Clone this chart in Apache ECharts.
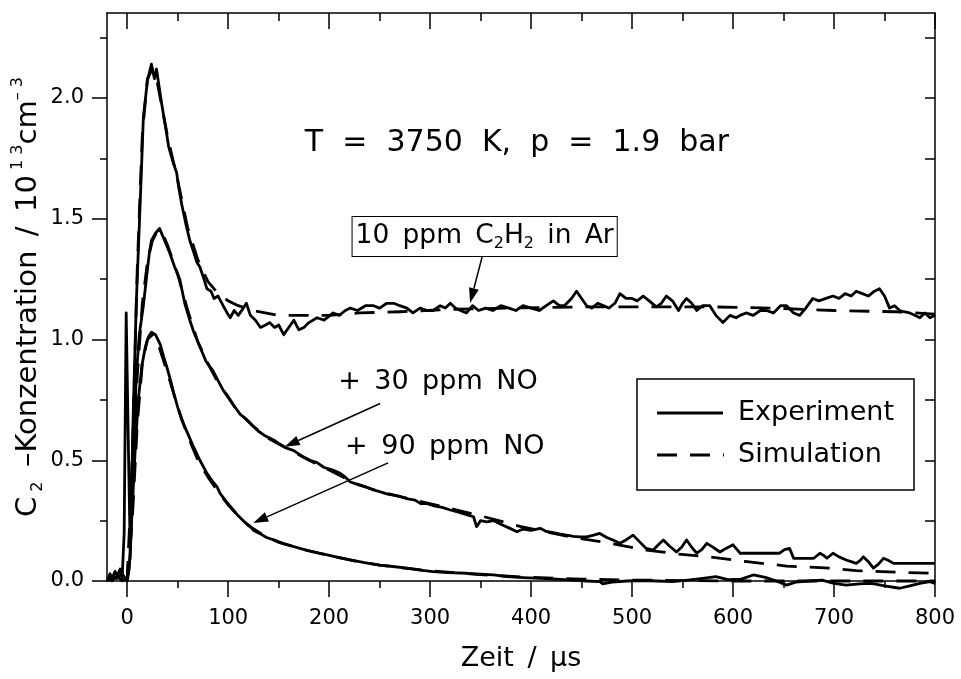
<!DOCTYPE html>
<html><head><meta charset="utf-8">
<script src="https://cdn.jsdelivr.net/npm/echarts@6/dist/echarts.min.js"></script>
<style>html,body{margin:0;padding:0;background:#fff}#c{width:961px;height:679px}</style>
</head><body><div id="c"></div>
<script>
// ---- axis ticks ----
const xMajor = [0, 100, 200, 300, 400, 500, 600, 700, 800];
const xMinor = [50, 150, 250, 350, 450, 550, 650, 750];
const yMajor = [0, 0.5, 1.0, 1.5, 2.0];
const yMinor = [0.25, 0.75, 1.25, 1.75, 2.25];
const yAll = [0, 0.25, 0.5, 0.75, 1.0, 1.25, 1.5, 1.75, 2.0, 2.25];

// ---- data: [time µs, C2 concentration / 1e13 cm^-3] ----
const expA = [[-20,0.00],[-17,0.03],[-15,0.01],[-12,0.04],[-10,0.02],[-7,0.05],[-5,0.01],[-3,0.2],[-1,1.11],[1,0.6],[3,0.13],[6,0.7],[9,1.15],[13,1.58],[16,1.92],[20,2.07],[24,2.14],[27,2.08],[29,2.12],[34,1.98],[38,1.88],[41,1.80],[45,1.74],[49,1.69],[51,1.63],[54,1.56],[58,1.48],[62,1.41],[66,1.36],[69,1.32],[72,1.30],[76,1.25],[79,1.21],[83,1.20],[86,1.17],[90,1.18],[95,1.14],[99,1.11],[102,1.09],[106,1.12],[110,1.10],[115,1.13],[118,1.15],[122,1.10],[127,1.08],[132,1.05],[137,1.06],[141,1.07],[146,1.05],[150,1.06],[155,1.02],[160,1.05],[165,1.08],[170,1.04],[175,1.05],[180,1.07],[188,1.09],[195,1.08],[204,1.11],[210,1.10],[216,1.12],[221,1.13],[228,1.12],[236,1.14],[244,1.14],[250,1.13],[257,1.15],[264,1.15],[270,1.14],[277,1.13],[283,1.11],[290,1.13],[297,1.12],[303,1.12],[310,1.14],[315,1.13],[320,1.15],[325,1.13],[330,1.12],[336,1.11],[342,1.14],[348,1.12],[355,1.13],[362,1.12],[370,1.14],[378,1.13],[385,1.12],[392,1.14],[400,1.13],[408,1.12],[415,1.14],[422,1.16],[428,1.14],[433,1.14],[440,1.17],[445,1.20],[450,1.17],[455,1.14],[460,1.13],[466,1.15],[472,1.14],[477,1.13],[483,1.15],[488,1.19],[494,1.17],[500,1.17],[505,1.16],[511,1.18],[517,1.16],[524,1.135],[529,1.15],[534,1.18],[540,1.16],[546,1.12],[550,1.15],[554,1.17],[559,1.15],[564,1.12],[570,1.14],[577,1.14],[583,1.10],[590,1.07],[597,1.10],[603,1.09],[607,1.10],[613,1.11],[620,1.10],[627,1.12],[633,1.12],[640,1.11],[647,1.14],[653,1.14],[660,1.11],[666,1.10],[672,1.13],[679,1.17],[685,1.16],[692,1.17],[699,1.18],[705,1.17],[711,1.19],[717,1.18],[722,1.20],[728,1.19],[734,1.18],[740,1.20],[745,1.21],[750,1.18],[755,1.13],[760,1.14],[765,1.12],[769,1.115],[775,1.11],[780,1.10],[785,1.09],[790,1.11],[795,1.09],[800,1.10]];
const simA = [[0,0],[5,0.5],[10,1.3],[15,1.85],[20,2.08],[25,2.12],[30,2.06],[40,1.84],[50,1.66],[60,1.46],[70,1.33],[80,1.24],[90,1.19],[100,1.16],[110,1.14],[125,1.12],[150,1.10],[175,1.10],[200,1.10],[230,1.11],[270,1.115],[320,1.125],[380,1.13],[450,1.135],[520,1.135],[580,1.135],[640,1.13],[700,1.12],[760,1.115],[800,1.105]];
const expB = [[-20,0.01],[-15,0.0],[-10,0.02],[-5,0.0],[0,0.01],[3,0.1],[6,0.5],[9,0.85],[12,1.02],[16,1.14],[19.5,1.27],[22,1.36],[24,1.41],[28,1.44],[32,1.46],[36,1.42],[42,1.36],[47,1.30],[52,1.25],[57,1.15],[62,1.08],[66,1.03],[72,0.97],[78,0.91],[85,0.87],[90,0.83],[95,0.79],[99,0.77],[105,0.73],[112,0.69],[118,0.67],[125,0.64],[130,0.62],[137,0.60],[145,0.584],[150,0.57],[158,0.55],[165,0.54],[172,0.52],[181,0.50],[188,0.49],[195,0.47],[203,0.46],[211,0.446],[216,0.43],[221,0.41],[228,0.40],[236,0.39],[244,0.377],[250,0.37],[258,0.36],[265,0.355],[270,0.35],[278,0.34],[285,0.335],[291,0.32],[297,0.32],[305,0.31],[312,0.305],[320,0.294],[328,0.285],[336,0.275],[343,0.266],[346,0.225],[350,0.25],[356,0.245],[363,0.25],[370,0.235],[378,0.22],[386,0.204],[392,0.215],[400,0.21],[409,0.218],[415,0.205],[422,0.2],[428,0.195],[435,0.19],[442,0.185],[448,0.183],[455,0.183],[462,0.19],[468,0.197],[475,0.18],[481,0.17],[488,0.156],[494,0.17],[501,0.19],[508,0.16],[514,0.135],[521,0.128],[526,0.15],[531,0.17],[537,0.145],[544,0.12],[549,0.14],[554,0.17],[559,0.14],[564,0.115],[569,0.13],[574,0.156],[580,0.14],[587,0.12],[593,0.135],[600,0.15],[604,0.13],[607,0.115],[615,0.115],[625,0.115],[635,0.115],[646,0.115],[651,0.13],[656,0.135],[660,0.094],[668,0.094],[675,0.094],[680,0.094],[686,0.115],[690,0.105],[693,0.094],[699,0.115],[705,0.1],[712,0.087],[717,0.08],[722,0.073],[726,0.085],[729,0.10],[734,0.08],[739,0.053],[744,0.07],[749,0.094],[754,0.085],[759,0.073],[770,0.073],[785,0.073],[800,0.073]];
const simB = [[0,0],[5,0.35],[10,0.85],[15,1.15],[20,1.32],[25,1.41],[30,1.45],[35,1.44],[40,1.39],[50,1.27],[60,1.12],[70,0.99],[80,0.90],[90,0.82],[100,0.76],[110,0.70],[125,0.64],[140,0.59],[160,0.545],[180,0.50],[200,0.46],[225,0.405],[250,0.37],[290,0.33],[320,0.30],[350,0.27],[390,0.225],[440,0.182],[480,0.155],[514,0.128],[545,0.112],[577,0.10],[614,0.08],[653,0.062],[696,0.053],[722,0.043],[765,0.036],[800,0.032]];
const expC = [[-20,0.0],[-15,0.02],[-10,0.01],[-5,0.03],[0,0.0],[2,0.05],[5,0.3],[8,0.55],[11,0.75],[14.5,0.89],[18,0.97],[21,1.01],[24,1.03],[28,1.02],[32.7,0.98],[36,0.93],[39,0.89],[43,0.83],[46,0.78],[50,0.72],[54,0.667],[60,0.61],[65.6,0.556],[72,0.50],[79,0.446],[85,0.41],[89,0.39],[92,0.363],[98,0.33],[105,0.294],[110,0.27],[116,0.245],[122,0.225],[125,0.21],[132,0.195],[138,0.18],[145,0.17],[155,0.155],[163,0.145],[171,0.135],[180,0.125],[190,0.115],[198,0.108],[210,0.097],[221,0.087],[235,0.076],[250,0.066],[263,0.06],[277,0.053],[290,0.045],[303,0.039],[318,0.035],[336,0.032],[350,0.028],[363,0.025],[376,0.018],[392,0.014],[409,0.011],[425,0.008],[442,0.004],[455,0.0],[468,-0.003],[471,-0.012],[480,-0.005],[495,0.0],[510,0.002],[525,0.0],[540,-0.003],[555,0.004],[568,0.01],[583,0.018],[595,0.006],[608,0.008],[620,0.025],[632,0.015],[643,0.0],[653,-0.017],[662,-0.005],[675,0.0],[688,0.004],[700,-0.01],[712,-0.017],[725,-0.012],[737,-0.01],[750,-0.02],[765,-0.03],[775,-0.02],[785,-0.01],[795,-0.003],[800,-0.01]];
const simC = [[0,0],[5,0.25],[10,0.65],[15,0.9],[20,1.0],[25,1.02],[30,0.99],[40,0.86],[50,0.72],[60,0.60],[70,0.50],[80,0.43],[90,0.37],[100,0.315],[110,0.27],[120,0.23],[135,0.19],[150,0.16],[175,0.13],[200,0.105],[225,0.083],[250,0.066],[275,0.053],[300,0.042],[350,0.026],[400,0.015],[450,0.008],[500,0.004],[600,0.0],[700,0.0],[800,0.0]];

// ---- texts ----
const SP = '\u2002';
const titleText = 'T  =  3750  K,  p  =  1.9  bar';
const labelA = '{n|10' + SP + 'ppm' + SP + 'C}{s|2}{n|H}{s|2}{n|' + SP + 'in' + SP + 'Ar}';
const labelB = '+' + SP + '30' + SP + 'ppm' + SP + 'NO';
const labelC = '+' + SP + '90' + SP + 'ppm' + SP + 'NO';
const legendNames = ['Experiment', 'Simulation'];
const xName = 'Zeit' + SP + '/' + SP + '\u03bcs';
const yName = '{n|C}{sub| 2}{n|' + SP + '\u2013Konzentration' + SP + '/' + SP + '10}{sup| 1 3}{n|cm}{sup|\u2013 3}';
// annotation anchors in data units
const titleAt = [386, 1.814];
const labelAAt = [354, 1.4265];
const arrowA = [[351.5, 1.342], [339.6, 1.151]];
const labelBAt = [208.9, 0.824];
const arrowB = [[250.5, 0.735], [156, 0.556]];
const labelCAt = [215.8, 0.555];
const arrowC = [[258.4, 0.489], [124.8, 0.240]];

const FONT = 'DejaVu Sans';
const BLK = '#000';
const gridBox = {left: 107, top: 13, right: 26, bottom: 98, containLabel: false, outerBoundsMode: 'none'};
const X0 = -20, X1 = 800, Y0 = 0, Y1 = 2.352;
const DASH = [20, 13];
const LW = 2.8;

function xAx(grid, pos, vals, len, inside, labels, line) {
  return {
    type: 'value', gridIndex: grid, position: pos, min: X0, max: X1,
    splitLine: {show: false},
    axisLine: {show: line, onZero: false, lineStyle: {color: BLK, width: 1.5}},
    axisTick: {show: true, inside: inside, length: len, customValues: vals, lineStyle: {color: BLK, width: 1.5}},
    axisLabel: labels ? {show: true, customValues: vals, margin: 27, color: BLK, fontSize: 21, fontFamily: FONT} : {show: false},
    minorTick: {show: false}
  };
}
function yAx(grid, pos, vals, len, inside, labels, line) {
  return {
    type: 'value', gridIndex: grid, position: pos, min: Y0, max: Y1,
    splitLine: {show: false},
    axisLine: {show: line, onZero: false, lineStyle: {color: BLK, width: 1.5}},
    axisTick: {show: true, inside: inside, length: len, customValues: vals, lineStyle: {color: BLK, width: 1.5}},
    axisLabel: labels ? {show: true, customValues: vals, margin: 23, color: BLK, fontSize: 21, fontFamily: FONT,
      formatter: v => v.toFixed(1)} : {show: false},
    minorTick: {show: false}
  };
}

const xAxes = [
  Object.assign(xAx(0, 'bottom', xMajor, 16, false, true, true), {
    name: xName, nameLocation: 'middle', nameGap: 64, nameMoveOverlap: false,
    nameTextStyle: {fontSize: 27, fontFamily: FONT, color: BLK}
  }),
  xAx(0, 'top', xMajor, 16, true, false, true),
  xAx(1, 'bottom', xMinor, 7, false, false, false),
  xAx(1, 'top', xMinor, 8, true, false, false)
];
const yAxes = [
  Object.assign(yAx(0, 'left', yMajor, 15, false, true, true), {
    name: yName,
    nameLocation: 'middle', nameGap: 61, nameRotate: 90, nameMoveOverlap: false,
    nameTextStyle: {color: BLK, fontFamily: FONT,
      rich: {
        n: {fontSize: 29, fontFamily: FONT, color: BLK, lineHeight: 36},
        sub: {fontSize: 16, fontFamily: FONT, color: BLK, verticalAlign: 'bottom', lineHeight: 36},
        sup: {fontSize: 16, fontFamily: FONT, color: BLK, verticalAlign: 'top', lineHeight: 32}
      }}
  }),
  yAx(0, 'right', yAll, 10, true, false, true),
  yAx(1, 'left', yMinor, 7, false, false, false)
];

function line(name, data, dashed, clip) {
  return {
    type: 'line', name: name, data: data, xAxisIndex: 0, yAxisIndex: 0,
    symbol: 'none', showSymbol: false, smooth: false, clip: clip,
    lineStyle: {color: BLK, width: LW, type: dashed ? DASH : 'solid', join: 'round'},
    itemStyle: {color: BLK},
    emphasis: {disabled: true}, silent: true, animation: false
  };
}

const chart = echarts.init(document.getElementById('c'), null, {renderer: 'canvas'});
chart.setOption({
  animation: false,
  backgroundColor: '#fff',
  textStyle: {fontFamily: FONT},
  grid: [Object.assign({}, gridBox), Object.assign({}, gridBox)],
  xAxis: xAxes,
  yAxis: yAxes,
  series: [
    line(legendNames[0], expA, false, true),
    line(legendNames[0], expB, false, true),
    line(legendNames[0], expC, false, false),
    line(legendNames[1], simA, true, true),
    line(legendNames[1], simB, true, true),
    line(legendNames[1], simC, true, false)
  ]
});

function px(p) { return chart.convertToPixel({seriesIndex: 0}, p); }
function arrow(a) {
  const p1 = px(a[0]), p2 = px(a[1]);
  const dx = p2[0] - p1[0], dy = p2[1] - p1[1];
  const L = Math.hypot(dx, dy), ux = dx / L, uy = dy / L;
  const hl = 15, hw = 5;
  const bx = p2[0] - ux * hl, by = p2[1] - uy * hl;
  return [
    {type: 'line', silent: true, shape: {x1: p1[0], y1: p1[1], x2: bx, y2: by}, style: {stroke: BLK, lineWidth: 1.5}},
    {type: 'polygon', silent: true, shape: {points: [[p2[0], p2[1]], [bx - uy * hw, by + ux * hw], [bx + uy * hw, by - ux * hw]]}, style: {fill: BLK}}
  ];
}
const tP = px(titleAt), aP = px(labelAAt), bP = px(labelBAt), cP = px(labelCAt);
// legend box (drawn as graphic so it has exact line samples)
const LG = {x: 637, y: 379, w: 277, h: 111, lx1: 657, lx2: 723, tx: 738, r1: 413, r2: 455};
const legendG = [
  {type: 'rect', silent: true, z: 20, shape: {x: LG.x, y: LG.y, width: LG.w, height: LG.h}, style: {fill: '#fff', stroke: BLK, lineWidth: 1.5}},
  {type: 'line', silent: true, z: 21, shape: {x1: LG.lx1, y1: LG.r1, x2: LG.lx2, y2: LG.r1}, style: {stroke: BLK, lineWidth: LW}},
  {type: 'line', silent: true, z: 21, shape: {x1: LG.lx1, y1: LG.r2, x2: LG.lx2 + 1, y2: LG.r2}, style: {stroke: BLK, lineWidth: LW, lineDash: DASH}},
  {type: 'text', silent: true, z: 21, x: LG.tx, y: LG.r1, style: {text: legendNames[0], fontSize: 27, fontFamily: FONT, fill: BLK, align: 'left', verticalAlign: 'middle'}},
  {type: 'text', silent: true, z: 21, x: LG.tx, y: LG.r2, style: {text: legendNames[1], fontSize: 27, fontFamily: FONT, fill: BLK, align: 'left', verticalAlign: 'middle'}}
];
const graphics = [
  {type: 'text', silent: true, x: tP[0], y: tP[1], style: {text: titleText, fontSize: 30, fontFamily: FONT, fill: BLK, align: 'center', verticalAlign: 'middle'}},
  {type: 'text', silent: true, x: aP[0], y: aP[1], z: 10, style: {
    text: labelA, align: 'center', verticalAlign: 'middle',
    rich: {n: {fontSize: 26.5, fontFamily: FONT, fill: BLK, lineHeight: 31}, s: {fontSize: 16, fontFamily: FONT, fill: BLK, verticalAlign: 'bottom', lineHeight: 31}},
    borderColor: BLK, borderWidth: 1, padding: [4, 3, 4, 3], backgroundColor: '#fff'}},
  {type: 'text', silent: true, x: bP[0], y: bP[1], style: {text: labelB, fontSize: 27, fontFamily: FONT, fill: BLK, align: 'left', verticalAlign: 'middle'}},
  {type: 'text', silent: true, x: cP[0], y: cP[1], style: {text: labelC, fontSize: 27, fontFamily: FONT, fill: BLK, align: 'left', verticalAlign: 'middle'}}
].concat(arrow(arrowA), arrow(arrowB), arrow(arrowC), legendG);
chart.setOption({graphic: graphics});
</script>
</body></html>
